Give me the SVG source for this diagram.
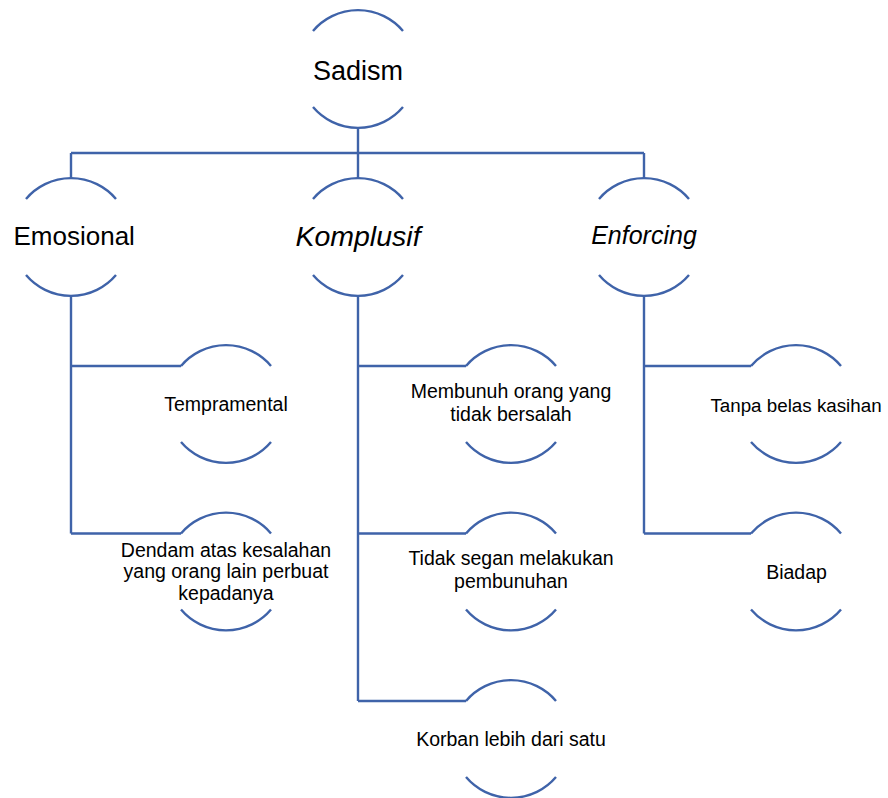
<svg xmlns="http://www.w3.org/2000/svg" width="888" height="798" viewBox="0 0 888 798">
<style>
.arc{fill:none;stroke:#3F63A9;stroke-width:2.4}
.con{fill:none;stroke:#3F63A9;stroke-width:2.4;stroke-linejoin:miter}
text{font-family:"Liberation Sans",Arial,sans-serif;fill:#000}
.l1{font-size:27px}
.l2{font-size:26px}
.l3{font-size:19.5px}
.it{font-style:italic}
</style>
<defs>
<path id="shape" class="arc" d="M-45,-38 A59,59 0 0 1 45,-38 M-45,38 A59,59 0 0 0 45,38"/>
</defs>
<rect width="888" height="798" fill="#fff"/>
<g id="connectors">
<path class="con" d="M358,128 V153 M71,153 H644 M71,178 V153 M358,178 V153 M644,178 V153"/>
<path class="con" d="M71,296 V533.5 M71,366 H181 M71,533.5 H181"/>
<path class="con" d="M358,296 V701 M358,366 H466 M358,533.5 H466 M358,701 H466"/>
<path class="con" d="M644,296 V533.5 M644,366 H751 M644,533.5 H751"/>
</g>
<g id="sadism"><use href="#shape" transform="translate(358,69)"/><text class="l1" x="358" y="80" text-anchor="middle">Sadism</text></g>
<g id="emosional"><use href="#shape" transform="translate(71,237)"/><text class="l2" x="13.5" y="245">Emosional</text></g>
<g id="komplusif"><use href="#shape" transform="translate(358,237)"/><text class="l2 it" x="358" y="246" text-anchor="middle" style="font-size:28.5px">Komplusif</text></g>
<g id="enforcing"><use href="#shape" transform="translate(644,237)"/><text class="l2 it" x="644" y="244" text-anchor="middle" style="font-size:25px">Enforcing</text></g>
<g id="tempramental"><use href="#shape" transform="translate(226,404)"/><text class="l3" x="226" y="411" text-anchor="middle">Tempramental</text></g>
<g id="dendam"><use href="#shape" transform="translate(226,571.5)"/><text class="l3" text-anchor="middle"><tspan x="226" y="556.5">Dendam atas kesalahan</tspan><tspan x="226" y="578">yang orang lain perbuat</tspan><tspan x="226" y="600">kepadanya</tspan></text></g>
<g id="membunuh"><use href="#shape" transform="translate(511,404)"/><text class="l3" text-anchor="middle"><tspan x="511" y="398">Membunuh orang yang</tspan><tspan x="511" y="420.5">tidak bersalah</tspan></text></g>
<g id="tidaksegan"><use href="#shape" transform="translate(511,571.5)"/><text class="l3" text-anchor="middle"><tspan x="511" y="565">Tidak segan melakukan</tspan><tspan x="511" y="588">pembunuhan</tspan></text></g>
<g id="korban"><use href="#shape" transform="translate(511,739)"/><text class="l3" x="511" y="745.5" text-anchor="middle">Korban lebih dari satu</text></g>
<g id="tanpabelas"><use href="#shape" transform="translate(796,404)"/><text class="l3" x="796" y="411.5" text-anchor="middle" style="font-size:18.8px">Tanpa belas kasihan</text></g>
<g id="biadap"><use href="#shape" transform="translate(796,571.5)"/><text class="l3" x="796.5" y="578.5" text-anchor="middle">Biadap</text></g>
</svg>
